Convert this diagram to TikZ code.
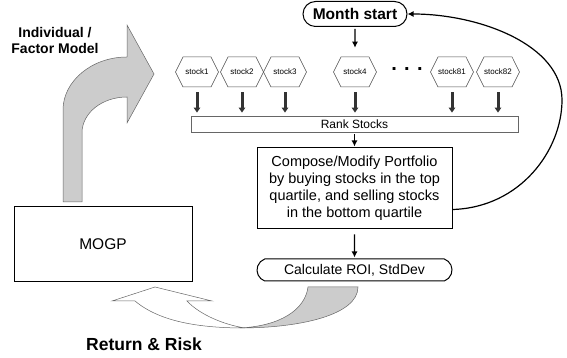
\documentclass[tikz,border=0pt]{standalone}
\usepackage{fontspec}
\setmainfont{Liberation Sans}
\usetikzlibrary{shapes.misc,shapes.symbols,arrows.meta}

\newcommand{\feedrank}[1]{%
  \draw[rankfeed, shorten <=5pt, shorten >=3pt] (#1.south) -- (#1.south |- rank.north)}
\newcommand{\connectstep}[3]{%
  \draw[flowarrow, shorten <=#3, shorten >=1pt] (#1) -- (#2)}

\begin{document}
\begin{tikzpicture}[x=1pt, y=1pt,
    stock/.style={signal, signal to=east and west, signal pointer angle=127,
      draw=black!70, line width=0.5pt, minimum width=43pt, minimum height=30pt,
      inner sep=0pt, font=\fontsize{8}{9}\selectfont},
    box/.style={draw, line width=1pt, inner sep=0pt, align=center},
    oval/.style={rounded rectangle, draw, line width=1pt, inner sep=0pt},
    flowarrow/.style={-{Latex[length=6pt,width=6pt]}, line width=1.2pt},
    rankfeed/.style={-{Triangle[length=5pt,width=6.5pt]}, line width=3pt, black!80},
    bigarrow/.style={fill=black!20, draw=black!60, line width=0.5pt, line join=miter}]
  \useasboundingbox (0,0) rectangle (567,358);

  % labels of the two wide arrows
  \node[font=\bfseries\fontsize{14}{16}\selectfont, align=center] (model) at (55,317)
    {Individual /\\Factor Model};
  \node[font=\bfseries\fontsize{17.5}{20}\selectfont] (retrisk) at (144,14) {Return \& Risk};

  % model arrow going up and into the loop
  \draw[bigarrow] (63,156) -- (63,248) .. controls (63,277) and (92,301) .. (127,301)
    -- (127,333) -- (154,284) -- (127,235) -- (127,261)
    .. controls (102,261) and (82,245) .. (82,225) -- (82,156) -- cycle;

  % monthly loop
  \node[oval, minimum width=104pt, minimum height=25pt,
    font=\bfseries\fontsize{15.5}{18}\selectfont] (month) at (355,344) {Month start};

  \node[stock] (s1) at (197,286) {stock1};
  \node[stock, right of=s1, node distance=45pt] (s2) {stock2};
  \node[stock, right of=s2, node distance=43pt] (s3) {stock3};
  \node[stock] (s4) at (355,286) {stock4};
  \node[font=\bfseries\fontsize{20}{20}\selectfont] (dots) at (407,289) {. . .};
  \node[stock] (s81) at (452,286) {stock81};
  \node[stock, right of=s81, node distance=46pt] (s82) {stock82};

  \node[draw=black!60, line width=0.8pt, minimum width=327pt, minimum height=16pt,
    inner sep=0pt, font=\fontsize{12}{14}\selectfont] (rank) at (354.5,234) {Rank Stocks};

  \node[box, minimum width=195pt, minimum height=81pt,
    font=\fontsize{14.5}{17}\selectfont] (compose) at (354.5,169.5)
    {Compose/Modify Portfolio\\by buying stocks in the top\\quartile, and selling stocks\\in the bottom quartile};

  \node[oval, rounded rectangle arc length=140, minimum width=195pt, minimum height=22pt,
    font=\fontsize{14}{16}\selectfont] (calc) at (354.5,88) {Calculate ROI, StdDev};

  \node[box, minimum width=178pt, minimum height=75pt,
    font=\fontsize{15.5}{18}\selectfont] (mogp) at (103,113.5) {MOGP};

  \draw[flowarrow, shorten <=2pt, shorten >=9pt] (month) -- (s4);
  \foreach \s in {s1,s2,s3,s4,s81,s82}
    \feedrank{\s};
  \connectstep{rank}{compose}{2pt};
  \connectstep{compose}{calc}{5pt};

  % back to the start of the next month
  \coordinate (turn) at (562,258);
  \draw[flowarrow] ([yshift=-21pt]compose.east) .. controls +(68,2) and +(0,-50) .. (turn)
    .. controls +(0,55) and +(72,0) .. (month.east);

  % results fed back to the model
  \draw[bigarrow] (308,71) -- (358,71) .. controls (358,43) and (300,30) .. (240,30)
    .. controls (280,32) and (305,48) .. (308,71) -- cycle;
  \draw[draw=black!60, fill=white, line width=0.5pt, line join=miter]
    (135,57) .. controls (160,36) and (200,30) .. (245,30)
    .. controls (225,33) and (200,43) .. (187,57) -- (212,57) -- (155,71) -- (112,57) -- cycle;
\end{tikzpicture}
\end{document}
